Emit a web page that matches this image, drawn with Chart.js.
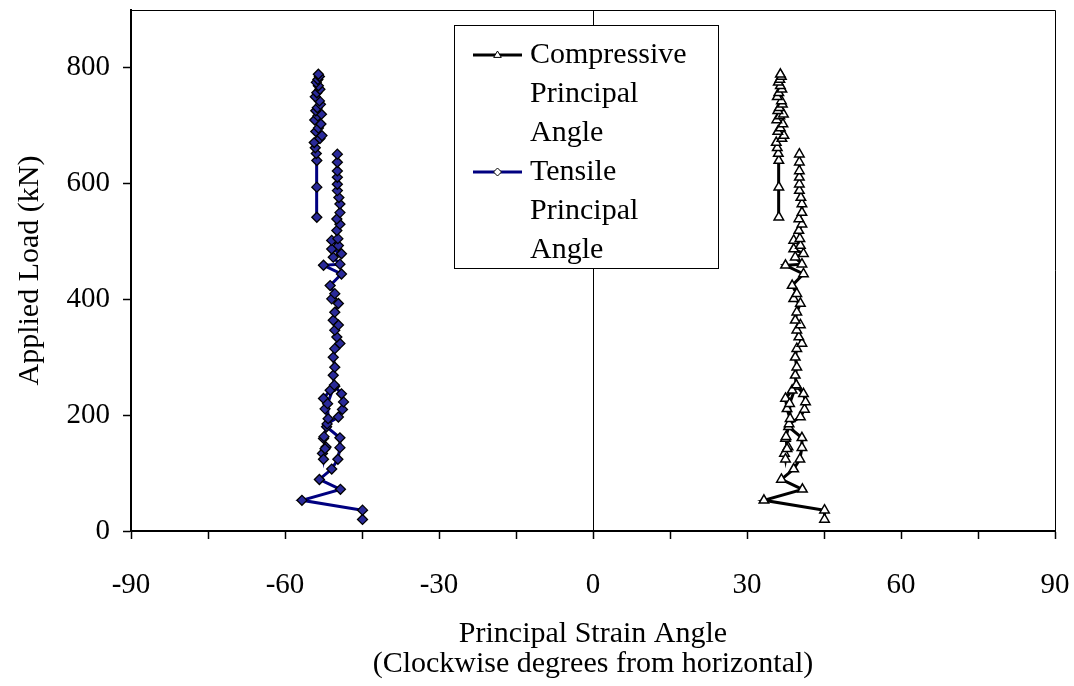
<!DOCTYPE html>
<html lang="en">
  <head>
    <meta charset="UTF-8" />
    <title>Principal Strain Angle vs Applied Load</title>
    <script src="https://cdn.jsdelivr.net/npm/chart.js"></script>
    <style>
      html, body { margin: 0; padding: 0; background: #fff; }
      #wrap { width: 1074px; height: 686px; }
    </style>
  </head>
  <body>
    <div id="wrap"><canvas id="angleChart" width="1074" height="686"></canvas></div>

    <script>
      // load steps (kN) shared by both gauges - null breaks the line
      const loads = [
        20, 36, 53, 72, 89, 107, 124, 144, 161, 180,
        160, 145, 134, 124, 142, 163, 185, 197, 210, 223,
        237, 250, 243, 229, 211, 194, 220, 252, 269, 283,
        300, 315, 324, 335, 347, 356, 364, 378, 393, 401,
        410, 424, 444, 459, 461, 473, 479, 487, 493, 502,
        505, 519, 530, 539, 550, 565, 576, 588, 599, 611,
        622, 637, 651, null,
        542, 594, 640, 652, 662, 671, 678, 683, 690, 696,
        703, 710, 717, 720, 726, 731, 737, 743, 750, 757,
        763, 769, 775, 780, 785, 789
      ];

      const tensileAngles = [
        -44.9, -44.9, -56.7, -49.2, -53.3, -50.9, -49.7, -49.3, -49.3, -51.9,
        -52.5, -52.0, -52.7, -52.5, -52.2, -52.4, -51.8, -49.6, -48.8, -48.6,
        -49.0, -50.3, -51.2, -52.5, -52.2, -51.6, -51.7, -50.4, -50.6, -50.3,
        -50.6, -50.3, -49.3, -49.9, -50.3, -49.6, -50.6, -50.3, -49.6, -50.9,
        -50.3, -51.2, -49.0, -52.5, -49.3, -50.6, -49.0, -50.9, -49.6, -50.9,
        -49.7, -49.9, -49.3, -49.9, -49.3, -49.3, -49.5, -49.8, -49.8, -49.8,
        -49.8, -49.8, -49.8, null,
        -53.8, -53.8, -53.8, -53.9, -54.1, -54.3, -53.2, -52.8, -54.0, -53.5,
        -53.0, -54.2, -53.6, -52.9, -54.0, -53.7, -53.1, -53.3, -54.1, -53.8,
        -53.2, -53.5, -53.9, -53.6, -53.3, -53.5
      ];

      const compressiveAngles = [
        45.1, 45.1, 33.3, 40.8, 36.7, 39.1, 40.3, 40.7, 40.7, 38.1,
        37.5, 38.0, 37.3, 37.5, 37.8, 37.6, 38.2, 40.4, 41.2, 41.4,
        41.0, 39.7, 38.8, 37.5, 37.8, 38.4, 38.3, 39.6, 39.4, 39.7,
        39.4, 39.7, 40.7, 40.1, 39.7, 40.4, 39.4, 39.7, 40.4, 39.1,
        39.7, 38.8, 41.0, 37.5, 40.7, 39.4, 41.0, 39.1, 40.4, 39.1,
        40.3, 40.1, 40.7, 40.1, 40.7, 40.7, 40.5, 40.2, 40.2, 40.2,
        40.2, 40.2, 40.2, null,
        36.2, 36.2, 36.2, 36.1, 35.9, 35.7, 36.8, 37.2, 36.0, 36.5,
        37.0, 35.8, 36.4, 37.1, 36.0, 36.3, 36.9, 36.7, 35.9, 36.2,
        36.8, 36.5, 36.1, 36.4, 36.7, 36.5
      ];

      const xTickValues = [-90, -75, -60, -45, -30, -15, 0, 15, 30, 45, 60, 75, 90];
      const xTickLabels = ["-90", "", "-60", "", "-30", "", "0", "", "30", "", "60", "", "90"];
      const yTickValues = [0, 200, 400, 600, 800];

      const seriesNames = [
        ["Compressive", "Principal", "Angle"],
        ["Tensile", "Principal", "Angle"]
      ];

      const serif = "'Liberation Serif', 'Times New Roman', serif";
      Chart.defaults.font.family = serif;
      Chart.defaults.color = "#000";

      function toPoints(angles) {
        return loads.map((load, i) => ({ x: angles[i], y: load }));
      }

      // box round the plot area (top + right edges)
      const plotFrame = {
        id: "plotFrame",
        afterDatasetsDraw(chart) {
          const { ctx, chartArea: a } = chart;
          ctx.save();
          ctx.strokeStyle = "#000";
          ctx.lineWidth = 1;
          ctx.beginPath();
          ctx.moveTo(a.left, a.top + 0.5);
          ctx.lineTo(a.right + 0.5, a.top + 0.5);
          ctx.lineTo(a.right + 0.5, a.bottom);
          ctx.stroke();
          ctx.restore();
        }
      };

      function marker(ctx, style, x, y, r) {
        ctx.beginPath();
        if (style === "triangle") {
          ctx.moveTo(x, y - r);
          ctx.lineTo(x + r * 0.95, y + r * 0.6);
          ctx.lineTo(x - r * 0.95, y + r * 0.6);
        } else {
          ctx.moveTo(x, y - r);
          ctx.lineTo(x + r, y);
          ctx.lineTo(x, y + r);
          ctx.lineTo(x - r, y);
        }
        ctx.closePath();
        ctx.fill();
        ctx.stroke();
      }

      // legend with wrapped labels, drawn inside the plot
      const boxLegend = {
        id: "boxLegend",
        afterDraw(chart) {
          const ctx = chart.ctx;
          const left = 454.5, top = 25.5, w = 264, h = 243;
          ctx.save();
          ctx.fillStyle = "#fff";
          ctx.fillRect(left, top, w, h);
          ctx.strokeStyle = "#000";
          ctx.lineWidth = 1;
          ctx.strokeRect(left, top, w, h);

          ctx.font = "30px " + serif;
          ctx.textBaseline = "middle";
          let rowY = 55;
          chart.data.datasets.forEach((ds, i) => {
            ctx.strokeStyle = ds.borderColor;
            ctx.lineWidth = ds.borderWidth;
            ctx.beginPath();
            ctx.moveTo(473, rowY);
            ctx.lineTo(522, rowY);
            ctx.stroke();
            ctx.fillStyle = "#fff";
            ctx.strokeStyle = "#000";
            ctx.lineWidth = 1;
            marker(ctx, ds.pointStyle, 497.5, rowY, 4);
            ctx.fillStyle = "#000";
            seriesNames[i].forEach((line) => {
              ctx.fillText(line, 530, rowY);
              rowY += 39;
            });
          });
          ctx.restore();
        }
      };

      const ctx = document.getElementById("angleChart").getContext("2d");
      new Chart(ctx, {
        type: "scatter",
        data: {
          datasets: [
            {
              label: "Compressive Principal Angle",
              data: toPoints(compressiveAngles),
              showLine: true,
              spanGaps: false,
              borderColor: "#000",
              borderWidth: 3,
              pointStyle: "triangle",
              pointRadius: 5.5,
              pointBackgroundColor: "#fff",
              pointBorderColor: "#000",
              pointBorderWidth: 1.5
            },
            {
              label: "Tensile Principal Angle",
              data: toPoints(tensileAngles),
              showLine: true,
              spanGaps: false,
              borderColor: "#000080",
              borderWidth: 3,
              pointStyle: "rectRot",
              pointRadius: 5,
              pointBackgroundColor: "#2a2a9a",
              pointBorderColor: "#000",
              pointBorderWidth: 1.3
            }
          ]
        },
        options: {
          responsive: false,
          animation: false,
          layout: { padding: { left: 0, right: 19, top: 10, bottom: 0 } },
          plugins: {
            legend: { display: false },
            tooltip: { enabled: false }
          },
          scales: {
            x: {
              type: "linear",
              min: -90,
              max: 90,
              afterBuildTicks: (scale) => {
                scale.ticks = xTickValues.map((v) => ({ value: v }));
              },
              afterFit: (scale) => {
                scale.height = 155;
                scale.paddingLeft = 0;
                scale.paddingRight = 0;
              },
              ticks: {
                autoSkip: false,
                maxRotation: 0,
                padding: 32,
                font: { size: 29, lineHeight: 1 },
                callback: (value) => xTickLabels[xTickValues.indexOf(value)]
              },
              grid: {
                drawOnChartArea: true,
                color: (c) => (c.tick && c.tick.value === 0 ? "#000" : "rgba(0,0,0,0)"),
                lineWidth: 1,
                tickColor: "#000",
                tickLength: 8,
                tickWidth: 1.5
              },
              border: { display: true, color: "#000", width: 2 },
              title: {
                display: true,
                text: ["Principal Strain Angle", "(Clockwise degrees from horizontal)"],
                font: { size: 30, lineHeight: 1 },
                padding: { top: 0, bottom: 7 }
              }
            },
            y: {
              type: "linear",
              min: 0,
              max: 900,
              afterBuildTicks: (scale) => {
                scale.ticks = yTickValues.map((v) => ({ value: v }));
              },
              afterFit: (scale) => {
                scale.width = 131;
                scale.paddingTop = 0;
                scale.paddingBottom = 0;
              },
              ticks: {
                padding: 13,
                font: { size: 29, lineHeight: 1 }
              },
              grid: {
                drawOnChartArea: false,
                tickColor: "#000",
                tickLength: 8,
                tickWidth: 1.5
              },
              border: { display: true, color: "#000", width: 2 },
              title: {
                display: true,
                text: "Applied Load (kN)",
                font: { size: 30, lineHeight: 1 },
                padding: { top: 15, bottom: 0 }
              }
            }
          }
        },
        plugins: [plotFrame, boxLegend]
      });
    </script>
  </body>
</html>
